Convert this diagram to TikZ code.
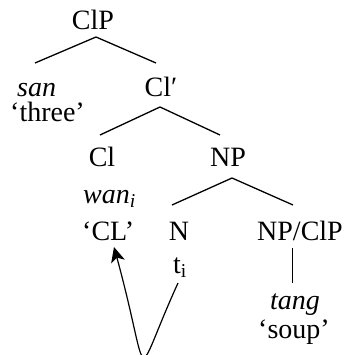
\documentclass[tikz,border=0pt]{standalone}
\usepackage{fontspec}
\setmainfont{Liberation Serif}
\usetikzlibrary{arrows.meta}
\begin{document}
\begin{tikzpicture}[x=1pt,y=-1pt,
  lbl/.style={anchor=base,inner sep=0pt,font=\fontsize{28}{33}\selectfont},
  lblw/.style={anchor=base west,inner sep=0pt,font=\fontsize{28}{33}\selectfont},
  branch/.style={line width=1.3pt},
  mvarrow/.style={line width=1.2pt,-{Stealth[length=15pt,width=14pt,inset=4pt]}}]
\useasboundingbox (0,0) rectangle (345,355);
% labels
\node[lbl] (clp) at (93,30) {ClP};
\node[lblw,text depth=0pt] (san) at (17,97) {\itshape san};
\node[lblw,text height=16pt] (three) at (10,122) {‘three’};
\node[lbl] (clbar) at (161,97) {Cl′};
\node[lbl] (cl) at (102,167) {Cl};
\node[lbl] (np) at (228,167) {NP};
\node[lblw] (wan) at (83,203) {\itshape wan\textsubscript{i}};
\node[lblw] (CL) at (82,240) {‘CL’};
\node[lbl] (n) at (179,240) {N};
\node[lbl] (npclp) at (300,240) {NP/ClP};
\node[lbl] (t) at (180,273) {t\textsubscript{i}};
\node[lbl] (tang) at (295,309) {\itshape tang};
\node[lbl] (soup) at (294,338) {‘soup’};
% branch points
\coordinate (clp-a) at (96,37);
\coordinate (san-a) at (35,63);
\coordinate (clbar-t) at (156,63);
\coordinate (clbar-a) at (160,107);
\coordinate (cl-t) at (100,135);
\coordinate (np-t) at (220,135);
\coordinate (np-a) at (232,178);
\coordinate (n-t) at (172,205);
\coordinate (npclp-t) at (293,205);
\coordinate (npclp-a) at (292,248);
\coordinate (tang-t) at (292,283);
\coordinate (t-a) at (178,283);
\coordinate (CL-a) at (114,247);
\draw[branch] (san-a) -- (clp-a) -- (clbar-t);
\draw[branch] (cl-t) -- (clbar-a) -- (np-t);
\draw[branch] (n-t) -- (np-a) -- (npclp-t);
\draw[line width=0.9pt] (npclp-a) -- (tang-t);
\draw[mvarrow] (t-a) .. controls (131,386) and (152,386) .. (CL-a);
\end{tikzpicture}
\end{document}
